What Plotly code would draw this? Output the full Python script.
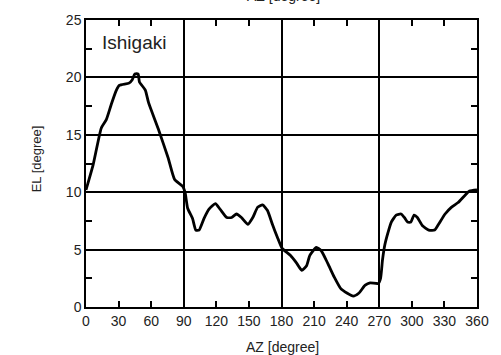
import plotly.graph_objects as go

az = [0, 6.6, 14.1, 18.6, 23.1, 27.6, 30.6, 39.6, 42.6, 45, 48, 49.2, 54.6, 57.6, 66.6, 75.6, 81.6, 89.1,
      91.2, 93.6, 98.1, 101.1, 104.1, 108.6, 113.1, 119.1, 123.6, 129.6, 134.1, 138.6, 143.1, 149.1,
      153.6, 158.1, 162.6, 167.1, 171.6, 176.1, 180.6, 188.1, 194.1, 198.6, 203.1, 206.1, 212.1,
      216.6, 222.6, 228.6, 234.6, 240.6, 246, 251.1, 257.1, 261.6, 269.1, 271.2, 273.0, 275.1, 278.1,
      281.1, 285.6, 290.1, 293.1, 296.1, 299.1, 302.1, 305.1, 309.6, 315.6, 321, 324.6, 330.6, 336.6,
      342.6, 348.6, 353.1, 360]
el = [10.2, 12.4, 15.6, 16.3, 17.6, 18.8, 19.3, 19.5, 19.8, 20.3, 20.3, 19.6, 18.9, 17.8, 15.5, 13.0, 11.1, 10.5,
      10.0, 8.6, 7.7, 6.7, 6.7, 7.7, 8.5, 9.0, 8.5, 7.8, 7.8, 8.1, 7.8, 7.2,
      7.8, 8.7, 8.9, 8.4, 7.2, 6.1, 5.1, 4.5, 3.8, 3.2, 3.6, 4.5, 5.2,
      4.9, 3.8, 2.6, 1.6, 1.2, 0.95, 1.2, 1.9, 2.1, 2.05, 2.5, 4.1, 5.4, 6.5,
      7.4, 8.0, 8.1, 7.8, 7.4, 7.4, 8.0, 7.8, 7.1, 6.7, 6.7, 7.2, 8.1, 8.7,
      9.1, 9.7, 10.1, 10.2]

x_ticks = [0, 30, 60, 90, 120, 150, 180, 210, 240, 270, 300, 330, 360]
x_grid = [90, 180, 270]
y_ticks = [0, 5, 10, 15, 20, 25]

FONT = "Liberation Sans, Arial, sans-serif"
INK = "#222222"

fig = go.Figure()
fig.add_trace(go.Scatter(x=az, y=el, mode="lines", line=dict(color="black", width=2.8, shape="spline", smoothing=0.5),
                         showlegend=False, hoverinfo="skip"))
# invisible trace to activate grid axis
fig.add_trace(go.Scatter(x=[0, 360], y=[0, 0], xaxis="x2", mode="lines", line=dict(width=0),
                         showlegend=False, hoverinfo="skip"))

fig.update_layout(
    width=501, height=355,
    margin=dict(l=86, r=15, t=18, b=48),
    paper_bgcolor="white", plot_bgcolor="white",
    font=dict(family=FONT, color=INK, size=14),
    xaxis=dict(range=[0, 360], tickvals=x_ticks, ticks="inside", ticklen=6, tickwidth=1.5,
               tickcolor="black", showgrid=False, zeroline=False, showline=True, linecolor="black",
               linewidth=1.5, mirror="ticks", tickfont=dict(size=14, color=INK)),
    xaxis2=dict(range=[0, 360], overlaying="x", tickvals=x_grid, showticklabels=False, ticks="",
                showgrid=True, gridcolor="black", gridwidth=1.5, zeroline=False, showline=False),
    yaxis=dict(range=[0, 25], tickvals=y_ticks, ticks="inside", ticklen=6, tickwidth=1.5,
               tickcolor="black", showgrid=True, gridcolor="black", gridwidth=1.5, zeroline=False,
               showline=True, linecolor="black", linewidth=1.5, mirror="ticks",
               tickfont=dict(size=14, color=INK),
               minor=dict(dtick=2.5, tick0=0, ticks="inside", ticklen=6, tickwidth=1.5,
                          tickcolor="black", showgrid=False)),
    annotations=[
        dict(text="Ishigaki", x=0.1225, y=0.92, xref="paper", yref="paper", showarrow=False,
             font=dict(size=19, color=INK), xanchor="center", yanchor="middle"),
        dict(text="EL [degree]", x=-0.1275, y=0.515, xref="paper", yref="paper", showarrow=False,
             textangle=-90, font=dict(size=13, color=INK), xanchor="center", yanchor="middle"),
        dict(text="AZ [degree]", x=0.5025, y=-0.138, xref="paper", yref="paper", showarrow=False,
             font=dict(size=14, color=INK), xanchor="center", yanchor="middle"),
        dict(text="AZ [degree]", x=0.505, y=1.083, xref="paper", yref="paper", showarrow=False,
             font=dict(size=14, color=INK), xanchor="center", yanchor="middle"),
    ],
)

fig.write_html("out.html")
